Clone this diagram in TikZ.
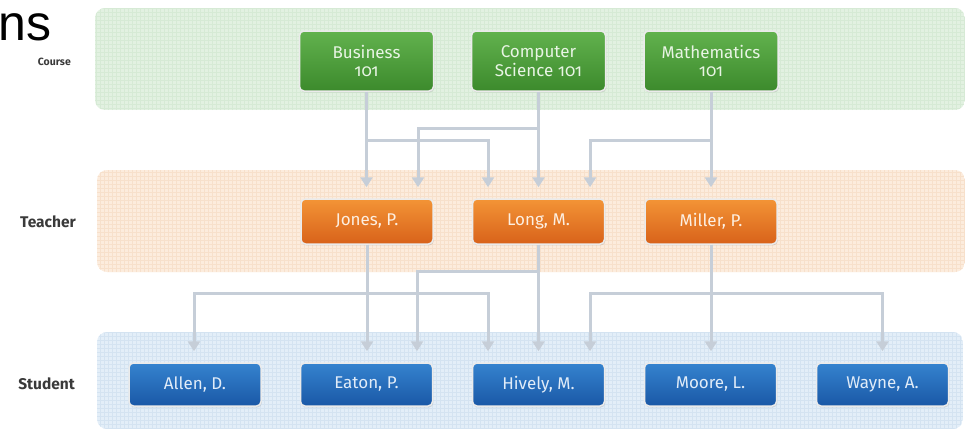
\documentclass[tikz,border=0pt]{standalone}
\usepackage{fontspec}
\setmainfont{Fira Sans}
\newfontfamily\titlefont{Liberation Sans}
\newfontfamily\boxfont[Numbers=OldStyle]{Fira Sans}
\usetikzlibrary{arrows.meta,shadows,calc}
\definecolor{courseband}{HTML}{E2F1E1}
\definecolor{coursegrid}{HTML}{D6EAD5}
\definecolor{teacherband}{HTML}{FCECDD}
\definecolor{teachergrid}{HTML}{F7E0CB}
\definecolor{studentband}{HTML}{E3EEF8}
\definecolor{studentgrid}{HTML}{D4E3F1}
\definecolor{gtop}{HTML}{62B24E}
\definecolor{gbot}{HTML}{3C8A2C}
\definecolor{otop}{HTML}{F39436}
\definecolor{obot}{HTML}{D8621A}
\definecolor{btop}{HTML}{3583CF}
\definecolor{bbot}{HTML}{1A58A6}
\definecolor{arrc}{HTML}{C6CED8}
\definecolor{labc}{HTML}{3A3A3A}
\tikzset{
  box/.style={rounded corners=4.5pt, draw=white!92!black, line width=1.5pt, align=center,
    inner sep=2pt, font=\boxfont\fontsize{17}{18.5}\selectfont,
    drop shadow={opacity=0.25, shadow xshift=0.8pt, shadow yshift=-1.4pt}},
  coursebox/.style={box, top color=gtop, bottom color=gbot, text=white!85!gtop,
    minimum width=134pt, minimum height=60pt},
  teacherbox/.style={box, top color=otop, bottom color=obot, text=white!85!otop,
    minimum width=132pt, minimum height=45pt},
  studentbox/.style={box, top color=btop, bottom color=bbot, text=white!85!btop,
    minimum width=132pt, minimum height=43pt},
  rowlabel/.style={anchor=east, text=labc, font=\bfseries\fontsize{15.5}{18}\selectfont, inner sep=0pt},
  arr/.style={draw=arrc, line width=3pt, -{Triangle[width=12pt,length=10pt]}, shorten >=11pt}
}
\begin{document}
\begin{tikzpicture}[x=1pt,y=-1pt]
\useasboundingbox (0,0) rectangle (972,431);
% bands
\begin{scope}
\clip[rounded corners=10pt] (95,8) rectangle (965,110);
\fill[courseband] (95,8) rectangle (965,110);
\draw[step=4pt, coursegrid, line width=0.25pt] (95,110) grid (965,8);
\end{scope}
\begin{scope}
\clip[rounded corners=10pt] (97,170) rectangle (965,272);
\fill[teacherband] (97,170) rectangle (965,272);
\draw[step=4pt, teachergrid, line width=0.25pt] (97,272) grid (965,170);
\end{scope}
\begin{scope}
\clip[rounded corners=10pt] (97,332) rectangle (963,429);
\fill[studentband] (97,332) rectangle (963,429);
\draw[step=4pt, studentgrid, line width=0.25pt] (97,429) grid (963,332);
\end{scope}
% title fragment
\node[anchor=base east, inner sep=0pt, font=\titlefont\fontsize{50}{50}\selectfont] (title) at (52,40) {ns};
% row labels
\node[rowlabel, font=\bfseries\fontsize{10.5}{12}\selectfont] (lcourse) at (71,62) {Course};
\node[rowlabel] (lteacher) at (76,222) {Teacher};
\node[rowlabel] (lstudent) at (75,384) {Student};
% course nodes
\node[coursebox] (bus) at (366.5,61) {Business\\101};
\node[coursebox] (cs) at (538.5,61) {Computer\\Science 101};
\node[coursebox] (math) at (711,61) {Mathematics\\101};
% teacher nodes
\node[teacherbox] (jones) at (367,221.5) {Jones, P.};
\node[teacherbox] (long) at (538.5,221.5) {Long, M.};
\node[teacherbox] (miller) at (711,221.5) {Miller, P.};
% student nodes
\node[studentbox] (allen) at (195,384.5) {Allen, D.};
\node[studentbox] (eaton) at (366.5,384.5) {Eaton, P.};
\node[studentbox] (hively) at (538.5,384.5) {Hively, M.};
\node[studentbox] (moore) at (710.5,384.5) {Moore, L.};
\node[studentbox] (wayne) at (882.5,384.5) {Wayne, A.};
% branch points
\coordinate (cb1) at (488,140);
\coordinate (cb2) at (418,128);
\coordinate (cb3) at (590,140);
\coordinate (tb1) at (194,293);
\coordinate (tb2) at (488,293);
\coordinate (tb3) at (417,271);
\coordinate (tb4) at (590,293);
\coordinate (tb5) at (882.5,293);
% course -> teacher
\draw[arr] (bus.south) -- (bus.south |- jones.north);
\draw[arr] (bus.south) |- (cb1) -- (cb1 |- long.north);
\draw[arr] (cs.south) -- (cs.south |- long.north);
\draw[arr] (cs.south) |- (cb2) -- (cb2 |- jones.north);
\draw[arr] (math.south) -- (math.south |- miller.north);
\draw[arr] (math.south) |- (cb3) -- (cb3 |- long.north);
% teacher -> student
\draw[arr] (jones.south) -- (jones.south |- eaton.north);
\draw[arr] (jones.south) |- (tb1) -- (tb1 |- allen.north);
\draw[arr] (jones.south) |- (tb2) -- (tb2 |- hively.north);
\draw[arr] (long.south) -- (long.south |- hively.north);
\draw[arr] (long.south) |- (tb3) -- (tb3 |- eaton.north);
\draw[arr] (miller.south) -- (miller.south |- moore.north);
\draw[arr] (miller.south) |- (tb4) -- (tb4 |- hively.north);
\draw[arr] (miller.south) |- (tb5) -- (tb5 |- wayne.north);
\end{tikzpicture}
\end{document}
